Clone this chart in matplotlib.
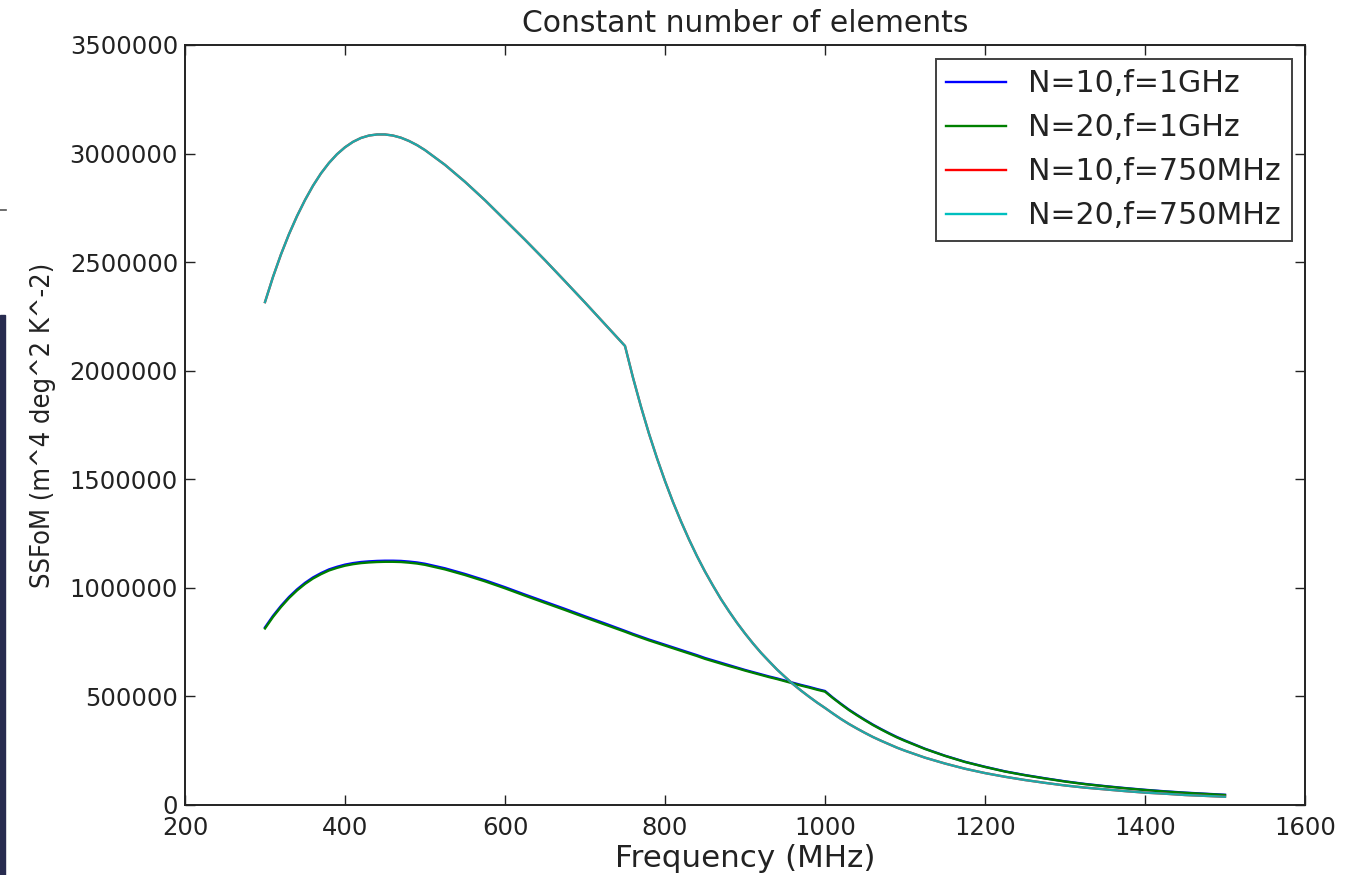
import matplotlib
matplotlib.use("Agg")
import matplotlib.pyplot as plt
from matplotlib.patches import Rectangle
from matplotlib.lines import Line2D

# ---------------- data (in units of 1000) ----------------
freq = ([300, 310, 320, 330, 340, 350, 360, 370, 380, 390, 400, 410, 420, 430, 440,
         450, 460, 470, 480, 490, 500]
        + [525, 550, 575, 600, 625, 650, 675, 700, 725]
        + [750, 760, 770, 780, 790, 800, 810, 820, 830, 840, 850, 860, 870, 880, 890,
           900, 910, 920, 930, 940, 950, 960, 970, 980, 990, 1000]
        + [1010, 1020, 1030, 1040, 1050, 1060, 1070, 1080, 1090, 1100]
        + [1125, 1150, 1175, 1200, 1225, 1250, 1275, 1300, 1325, 1350, 1375, 1400,
           1425, 1450, 1475, 1500])

n10_1ghz_k = ([818, 871, 917, 958, 993, 1023, 1048, 1068, 1085, 1097, 1107, 1114, 1119,
               1122, 1124, 1125, 1125, 1124, 1121, 1117, 1111]
              + [1090, 1064, 1035, 1003, 969, 936, 903, 869, 836]
              + [802, 788, 775, 762, 750, 738, 726, 714, 702, 690, 677, 666, 655, 644,
                 633, 622, 612, 602, 592, 583, 573, 563, 553, 544, 534, 525]
              + [494, 466, 439, 415, 392, 370, 350, 331, 313, 297]
              + [259, 227, 199, 176, 155, 138, 123, 109, 97, 87, 78, 70, 63, 57, 52, 47])

n20_1ghz_k = ([813, 866, 912, 953, 988, 1018, 1043, 1063, 1080, 1092, 1102, 1109, 1114,
               1117, 1119, 1120, 1120, 1119, 1116, 1112, 1106]
              + [1085, 1059, 1030, 998, 964, 931, 898, 864, 831]
              + [798, 784, 771, 758, 746, 734, 722, 710, 698, 686, 673, 662, 651, 640,
                 630, 619, 609, 599, 589, 580, 570, 560, 550, 541, 531, 522]
              + [492, 464, 437, 413, 390, 368, 348, 329, 311, 295]
              + [258, 226, 198, 175, 154, 137, 122, 108, 96, 86, 77, 69, 62, 56, 51, 46])

n10_750mhz_k = ([2316, 2432, 2536, 2629, 2712, 2786, 2852, 2909, 2957, 2997, 3029, 3054,
                 3072, 3083, 3088, 3088, 3083, 3073, 3058, 3039, 3016]
                + [2948, 2870, 2785, 2694, 2603, 2509, 2412, 2314, 2214]
                + [2114, 1968, 1834, 1710, 1597, 1492, 1395, 1306, 1223, 1146, 1075, 1010,
                   948, 892, 839, 790, 744, 701, 662, 624, 590, 557, 527, 499, 472, 447]
                + [421, 396, 373, 352, 332, 313, 296, 280, 264, 250]
                + [218, 191, 167, 147, 130, 115, 102, 90, 80, 72, 64, 57, 52, 46, 42, 38])

n20_750mhz_k = list(n10_750mhz_k)

labels = ["N=10,f=1GHz", "N=20,f=1GHz", "N=10,f=750MHz", "N=20,f=750MHz"]
colors = ["#0000ff", "#008000", "#ff0000", "#00bfbf"]
alphas = [1.0, 1.0, 1.0, 0.88]

xticks = [200, 400, 600, 800, 1000, 1200, 1400, 1600]
yticks = [0, 500000, 1000000, 1500000, 2000000, 2500000, 3000000, 3500000]

plt.rcParams["font.family"] = ["DejaVu Sans"]

# ---------------- figure ----------------
fig = plt.figure(figsize=(13.58, 8.75), dpi=100)
ax = fig.add_axes([185 / 1358, 1 - 805 / 875, (1305 - 185) / 1358, (805 - 45) / 875])

series = [n10_1ghz_k, n20_1ghz_k, n10_750mhz_k, n20_750mhz_k]
for ys, lab, col, a in zip(series, labels, colors, alphas):
    ax.plot(freq, [v * 1000 for v in ys], color=col, lw=1.7, alpha=a, label=lab,
            solid_joinstyle="round")

ax.set_xlim(200, 1600)
ax.set_ylim(0, 3500000)
ax.set_xticks(xticks)
ax.set_yticks(yticks)
ax.set_xticklabels([str(t) for t in xticks])
ax.set_yticklabels([str(t) for t in yticks])
ax.tick_params(direction="in", length=7, width=1, top=True, right=True,
               labelsize=17.5, colors="#222222", labelcolor="#222222")
ax.tick_params(axis="x", pad=8)
ax.tick_params(axis="y", pad=5)
for s in ax.spines.values():
    s.set_linewidth(1.4)
    s.set_color("#222222")

ax.set_title("Constant number of elements", fontsize=21.5, pad=9, color="#222222")
ax.set_xlabel("Frequency (MHz)", fontsize=22.3, labelpad=3, color="#222222")
ax.set_ylabel("SSFoM (m^4 deg^2 K^-2)", fontsize=19.5, fontstretch="condensed",
              labelpad=10, color="#222222")

leg = ax.legend(loc="upper right", fontsize=21.6, frameon=True, fancybox=False,
                handlelength=2.0, handletextpad=0.73, borderpad=0.35,
                labelspacing=0.5, borderaxespad=0.45)
leg.get_frame().set_edgecolor("#111111")
leg.get_frame().set_linewidth(1.4)
for t in leg.get_texts():
    t.set_color("#222222")
for h in leg.legend_handles:
    h.set_alpha(1.0)

# artefacts at the left edge of the reference image
fig.patches.append(Rectangle((0, 0), 5 / 1358, (875 - 315) / 875,
                             transform=fig.transFigure, color="#272b4f",
                             zorder=5))
fig.lines.append(Line2D([0, 6 / 1358], [1 - 210 / 875, 1 - 210 / 875],
                        transform=fig.transFigure, color="#555555", lw=1.2))

fig.savefig("out.png", dpi=100)
